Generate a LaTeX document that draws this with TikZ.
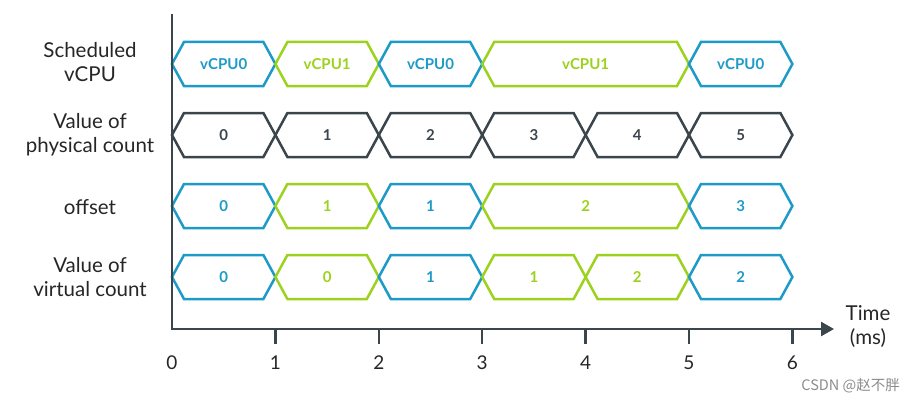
\documentclass[tikz,border=0pt]{standalone}
\usepackage{fontspec}
\setmainfont{Lato}
\newfontfamily\cjkfont{Noto Sans CJK SC}
\usetikzlibrary{arrows.meta}
\definecolor{cblue}{HTML}{1E9AC8}
\definecolor{cgreen}{HTML}{9CD21E}
\definecolor{cdark}{HTML}{3B454C}
\definecolor{ctext}{HTML}{262626}
% name, t0, t1, yc, color, text
\newcommand\hexseg[6]{%
  \pgfmathsetmacro\hxa{172+103.4*#2}%
  \pgfmathsetmacro\hxb{172+103.4*#3}%
  \draw[seg,#5] (\hxa,#4) -- (\hxa+12,#4+22) -- (\hxb-12,#4+22) -- (\hxb,#4)
     -- (\hxb-12,#4-22) -- (\hxa+12,#4-22) -- cycle;
  \node[segtext,text=#5] (#1) at ({(\hxa+\hxb)/2},#4) {#6};
}
\begin{document}
\begin{tikzpicture}[x=1pt,y=-1pt,
  seg/.style={line width=2.5pt,line join=miter},
  segtext/.style={font=\fontsize{15}{17}\selectfont\bfseries,inner sep=0pt},
  rowlabel/.style={align=center,font=\fontsize{20.5}{24}\selectfont,text=ctext,inner sep=0pt},
  axis/.style={line width=2.6pt,draw=cdark},
  ticklbl/.style={font=\fontsize{19}{21}\selectfont,text=ctext,inner sep=0pt}]
\useasboundingbox (0,0) rectangle (915,404);

% row labels
\node[rowlabel] (lsched) at (90,62) {Scheduled\\vCPU};
\node[rowlabel] (lphys) at (90,135) {Value of\\physical count};
\node[rowlabel] (loff) at (90,207) {offset};
\node[rowlabel] (lvirt) at (90,277) {Value of\\virtual count};

% row 1: scheduled vCPU
\hexseg{s1}{0}{1}{64}{cblue}{vCPU0}
\hexseg{s2}{1}{2}{64}{cgreen}{vCPU1}
\hexseg{s3}{2}{3}{64}{cblue}{vCPU0}
\hexseg{s4}{3}{5}{64}{cgreen}{vCPU1}
\hexseg{s5}{5}{6}{64}{cblue}{vCPU0}

% row 2: physical count
\hexseg{p1}{0}{1}{135}{cdark}{0}
\hexseg{p2}{1}{2}{135}{cdark}{1}
\hexseg{p3}{2}{3}{135}{cdark}{2}
\hexseg{p4}{3}{4}{135}{cdark}{3}
\hexseg{p5}{4}{5}{135}{cdark}{4}
\hexseg{p6}{5}{6}{135}{cdark}{5}

% row 3: offset
\hexseg{o1}{0}{1}{206}{cblue}{0}
\hexseg{o2}{1}{2}{206}{cgreen}{1}
\hexseg{o3}{2}{3}{206}{cblue}{1}
\hexseg{o4}{3}{5}{206}{cgreen}{2}
\hexseg{o5}{5}{6}{206}{cblue}{3}

% row 4: virtual count
\hexseg{v1}{0}{1}{277}{cblue}{0}
\hexseg{v2}{1}{2}{277}{cgreen}{0}
\hexseg{v3}{2}{3}{277}{cblue}{1}
\hexseg{v4}{3}{4}{277}{cgreen}{1}
\hexseg{v5}{4}{5}{277}{cgreen}{2}
\hexseg{v6}{5}{6}{277}{cblue}{2}

% axes
\coordinate (ytop) at (172,14);
\coordinate (origin) at (172,329);
\coordinate (xend) at (834,329);
\draw[axis,-{Triangle[length=13pt,width=14pt]}] (ytop) -- (origin) -- (xend);

\foreach \i in {1,...,6} {
  \coordinate (tk\i) at ({172+103.4*\i},329);
  \draw[line width=2.4pt,draw=cdark] (tk\i) -- ++(0,15);
}
\foreach \i in {0,...,6} {
  \node[ticklbl] (tl\i) at ({172+103.4*\i},363) {\i};
}
\node[rowlabel] (tlabel) at (868,327) {Time\\(ms)};

\node[font=\cjkfont\fontsize{14.5}{16}\selectfont,text=black!45,anchor=east,inner sep=0pt] (wm) at (900,386) {CSDN @赵不胖};
\end{tikzpicture}
\end{document}
